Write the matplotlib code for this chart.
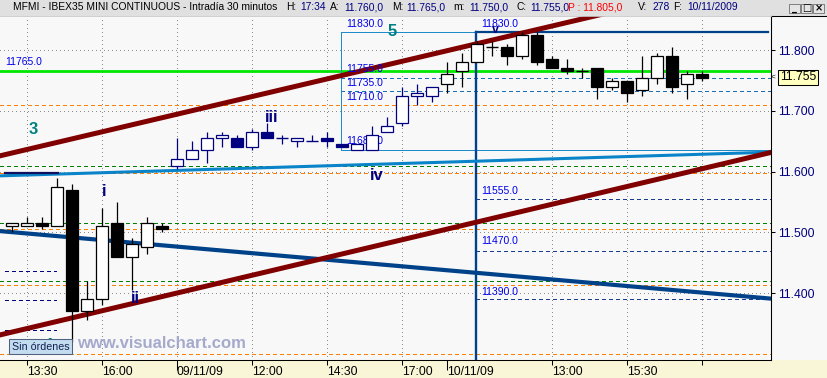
import matplotlib
matplotlib.use('Agg')
import matplotlib.pyplot as plt
import matplotlib.transforms as mtransforms
from matplotlib.patches import Rectangle
from matplotlib.lines import Line2D

plt.rcParams['font.family'] = ['Liberation Sans', 'DejaVu Sans']

# 30 min bars: 06/11 (11 bars), 09/11 (18 bars), 10/11 (18 bars)
opens = [11510, 11510, 11515, 11510, 11570, 11370, 11390, 11515, 11460, 11475, 11510,
         11610, 11620, 11635, 11655, 11655, 11640, 11665, 11655, 11650, 11650, 11655,
         11645, 11635, 11635, 11665, 11680, 11725, 11725,
         11745, 11765, 11780, 11805, 11805, 11790, 11825, 11785, 11770, 11765, 11770,
         11740, 11750, 11735, 11755, 11790, 11745, 11760]
highs = [11515, 11525, 11525, 11590, 11580, 11420, 11540, 11550, 11490, 11525, 11515,
         11655, 11650, 11665, 11665, 11660, 11670, 11680, 11660, 11655, 11660, 11665,
         11645, 11645, 11675, 11690, 11740, 11745, 11740,
         11780, 11795, 11815, 11815, 11810, 11830, 11830, 11790, 11785, 11770, 11770,
         11755, 11750, 11790, 11795, 11805, 11765, 11765]
lows = [11500, 11510, 11505, 11510, 11320, 11355, 11380, 11460, 11405, 11465, 11500,
        11605, 11620, 11615, 11640, 11640, 11635, 11655, 11645, 11640, 11650, 11640,
        11640, 11635, 11635, 11665, 11675, 11710, 11715,
        11730, 11740, 11780, 11790, 11775, 11785, 11775, 11770, 11760, 11755, 11720,
        11735, 11715, 11725, 11745, 11730, 11720, 11750]
closes = [11515, 11515, 11510, 11575, 11370, 11390, 11510, 11460, 11480, 11515, 11505,
          11620, 11635, 11655, 11660, 11640, 11665, 11655, 11655, 11655, 11650, 11650,
          11640, 11645, 11660, 11675, 11725, 11730, 11740,
          11760, 11780, 11810, 11805, 11790, 11825, 11780, 11770, 11765, 11765, 11740,
          11750, 11730, 11755, 11790, 11740, 11760, 11755]
session = [0] * 11 + [1] * 18 + [2] * 18
session_colors = ['black', '#000080', 'black']

time_ticks = [1, 6, 16, 21, 26, 36, 41, 46]
time_labels = ['13:30', '16:00', '12:00', '14:30', '17:00', '13:00', '15:30', '']
date_ticks = [11, 29]
date_labels = ['09/11/09', '10/11/09']
grid_x = [1, 6, 11, 16, 21, 26, 36, 41, 46]
price_ticks = [11400, 11500, 11600, 11700, 11800]

# drawn objects (bar index, price)
upper_channel = ([-0.8, 40.0], [11626, 11863])
lower_channel = ([-0.8, 50.5], [11331, 11631])
navy_trend = ([-0.8, 50.5], [11502, 11391])
blue_trend = ([-0.8, 50.5], [11593, 11632])
green_level = 11765
green_dashed = [11610, 11515, 11420]
orange_dashed = [11710, 11597, 11505, 11413, 11300]
left_dashed = [11437, 11388, 11339]
box_left, box_split = 21.95, 30.95
box_top, box_bottom = 11830, 11635
box_dashed = [11755, 11733]
proj_dashed = [11555, 11470, 11390]
last_price = 11755

W, H = 828, 378
fig = plt.figure(figsize=(W / 100, H / 100), dpi=100, facecolor='#f8f8f8')
ax = fig.add_axes([0, 18 / H, 771 / W, 344 / H])
ax.set_facecolor('#f8f8f8')
ax.set_xlim(-0.8, 50.6)
ax.set_ylim(11289.7, 11856.3)
PX = mtransforms.Affine2D().scale(1 / W, -1 / H).translate(0, 1) + fig.transFigure
px1 = 0.72  # one pixel

# grid
dot = (0, (1, 3.5))
for p in price_ticks:
    ax.axhline(p, color='#8c8c8c', lw=px1, ls=dot, zorder=1, antialiased=False)
for gx in grid_x:
    ax.axvline(gx, color='#8c8c8c', lw=px1, ls=dot, zorder=1, antialiased=False)

# horizontal levels
for p in green_dashed:
    ax.axhline(p, color='#008000', lw=px1, ls=(0, (4, 3)), zorder=1.5, antialiased=False)
for p in orange_dashed:
    ax.axhline(p, color='#ff8000', lw=px1, ls=(0, (4, 3)), zorder=1.5, antialiased=False)
ax.hlines(left_dashed, -0.47, 2.93, color='#000080', lw=px1, ls=(0, (4, 3)), zorder=1.5,
          antialiased=False)
ax.hlines(box_dashed, box_left, 50.6, color='#1a6eb4', lw=px1, ls=(0, (4, 4)), zorder=1.5,
          antialiased=False)
ax.hlines(proj_dashed, box_split, 50.6, color='#1a3c8c', lw=px1, ls=(0, (4, 4)), zorder=1.5,
          antialiased=False)
ax.axhline(green_level, color='#00e800', lw=2.0, zorder=2)

# rectangle / projection tool
ax.plot([box_split, box_left, box_left, 50.6], [box_top, box_top, box_bottom, box_bottom],
        color='#1e8cc8', lw=px1, zorder=2, antialiased=False)
ax.plot([box_split, 50.4], [box_top, box_top], color='#00428a', lw=1.6, zorder=2)
ax.axvline(box_split, ymax=(box_top - 11289.7) / (11856.3 - 11289.7), color='#00428a',
           lw=1.7, zorder=2)

# trend lines
ax.plot(*blue_trend, color='#0a84c8', lw=2.2, zorder=2)
ax.plot([-0.47, 3.1], [11597, 11597], color='#101060', lw=1.6, zorder=2)
ax.plot(*navy_trend, color='#00428a', lw=3.0, zorder=2)
ax.plot(*upper_channel, color='#800000', lw=3.6, zorder=2)
ax.plot(*lower_channel, color='#800000', lw=3.6, zorder=2)

# candles
for i in range(len(opens)):
    o, h, l, c = opens[i], highs[i], lows[i], closes[i]
    col = session_colors[session[i]]
    ax.vlines(i, l, h, color=col, lw=0.9, zorder=3)
    if o == c:
        ax.hlines(o, i - 0.4, i + 0.4, color=col, lw=1.0, zorder=4)
    else:
        fc = 'white' if c > o else col
        ax.add_patch(Rectangle((i - 0.4, min(o, c)), 0.8, abs(c - o), facecolor=fc,
                               edgecolor=col, lw=0.9, zorder=4))

# level labels
lab = dict(color='#0000ee', fontsize=7.5, transform=PX, va='center', ha='left', zorder=2.5)
ax.text(5, 62, '11765.0', **lab)
ax.text(346, 24, '11830.0', **lab)
ax.text(346, 69, '11755.0', **lab)
ax.text(346, 82.5, '11735.0', **lab)
ax.text(346, 97.5, '11710.0', **lab)
ax.text(346, 141.5, '11685.0', **lab)
ax.text(481, 24, '11830.0', **lab)
ax.text(481, 191, '11555.0', **lab)
ax.text(481, 241.5, '11470.0', **lab)
ax.text(481, 292, '11390.0', **lab)

# wave counts
wv = dict(fontsize=12, fontweight='bold', transform=PX, ha='center', va='center', zorder=5)
ax.text(33, 129, '3', color='#008080', **wv)
ax.text(392, 31.5, '5', color='#008080', **wv)
ax.text(48, 346, '4', color='#008080', **wv)
ax.text(104, 192, 'i', color='#000080', **wv)
ax.text(135.5, 298.5, 'ii', color='#000080', **wv)
ax.text(271.5, 118, 'iii', color='#000080', **wv)
ax.text(377, 175, 'iv', color='#000080', **wv)
ax.text(495, 30, 'v', color='#000080', fontsize=9, fontweight='bold', transform=PX,
        ha='center', va='center', zorder=5)

ax.text(77, 344, 'www.visualchart.com', color='#a5aacd', fontsize=12, fontweight='bold',
        transform=PX, ha='left', va='center', zorder=5)

# axes styling
for side in ['top', 'left']:
    ax.spines[side].set_visible(False)
ax.spines['bottom'].set_linewidth(0.75)
ax.spines['right'].set_linewidth(0.75)
ax.yaxis.tick_right()
ax.set_yticks(price_ticks, [f'{p / 1000:.3f}' for p in price_ticks])
ax.tick_params(axis='y', length=3, width=0.75, pad=2, labelcolor='#000080', labelsize=8.7)
ax.set_xticks(time_ticks, time_labels)
ax.set_xticks(date_ticks, date_labels, minor=True)
ax.tick_params(axis='x', which='major', length=3.6, width=0.75, pad=0.6, labelsize=8.7)
ax.tick_params(axis='x', which='minor', length=7, width=0.75, pad=-2.6, labelsize=8.7)
for t in ax.get_xticklabels(which='both'):
    t.set_ha('left')

# last price marker
fig.text(780, 77.5, '11.755', transform=PX, fontsize=8.7, ha='left', va='center', color='black',
         bbox=dict(boxstyle='square,pad=0.15', fc='#ffffc0', ec='black', lw=0.75))
fig.text(773, 77.5, '<', transform=PX, fontsize=6, ha='center', va='center')

# window chrome
fig.add_artist(Rectangle((0, 0), W, 15.5, transform=PX, fc='#e0e0e0', ec='none', zorder=-1))
fig.add_artist(Rectangle((0, 360), W, 18, transform=PX, fc='#f8f6d6', ec='none', zorder=-1))
fig.add_artist(Line2D([771, 771], [15.5, 360], transform=PX, color='black', lw=0.75))
fig.add_artist(Line2D([771, W], [15.5, 15.5], transform=PX, color='black', lw=0.75))
fig.add_artist(Line2D([0, 771], [15.5, 15.5], transform=PX, color='#c8c8c8', lw=0.6))

tt = dict(transform=PX, fontsize=7.4, va='center', ha='left')
fig.text(13, 7.5, 'MFMI - IBEX35 MINI CONTINUOUS - Intradía 30 minutos', color='black', **tt)
parts = [(286, 'H:', 'black'), (300, '17:34', '#000080'),
         (330, 'A:', 'black'), (344, '11.760,0', '#000080'),
         (392, 'M:', 'black'), (406, '11.765,0', '#000080'),
         (453, 'm:', 'black'), (469, '11.750,0', '#000080'),
         (517, 'C:', 'black'), (530, '11.755,0', '#000080'),
         (568, 'P : 11.805,0', '#ff0000'),
         (638, 'V:', 'black'), (653, '278', '#000080'),
         (673, 'F:', 'black'), (687, '10/11/2009', '#000080')]
for x, s, c in parts:
    fig.text(x, 7.5, s, color=c, **tt)

for bx, sym in zip([789, 801, 813], ['_', '□', '×']):
    fig.add_artist(Rectangle((bx, 3.5), 11, 9.5, transform=PX, fc='#e4e4e4', ec='#707070', lw=0.6))
    fig.text(bx + 5.5, 8, sym, transform=PX, fontsize=7, ha='center', va='center',
             fontweight='bold', family=['DejaVu Sans'])

# order box
fig.add_artist(Rectangle((9, 339), 63, 15, transform=PX, fc='#c4dcf0', ec='#506080', lw=0.75))
fig.text(40.5, 346.5, 'Sin órdenes', transform=PX, fontsize=7.7, ha='center', va='center',
         color='#102050')

fig.savefig('out.png', dpi=100, facecolor=fig.get_facecolor())
